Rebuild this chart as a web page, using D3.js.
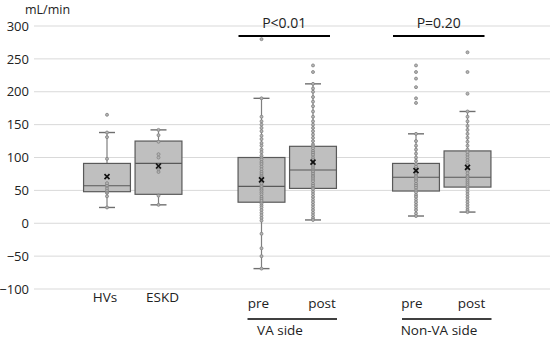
<!DOCTYPE html>
<meta charset="utf-8">
<style>
body { margin: 0; background: #fff; }
text { font-family: "Open Sans", "Liberation Sans", sans-serif; fill: #222; }
</style>
<body>
<svg id="chart" width="550" height="343"></svg>
<script src="https://cdn.jsdelivr.net/npm/d3@7/dist/d3.min.js"></script>
<script>

// x slots: groups plus empty gap slots between them
var slots = ["gapA", "HVs", "ESKD", "gapB", "VA pre", "VA post", "gapC", "NonVA pre", "NonVA post", "gapD"];
var groups = ["HVs", "ESKD", "VA pre", "VA post", "NonVA pre", "NonVA post"];

// box statistics
var q1      = [48, 44, 32, 53, 49, 55];
var median  = [57, 91, 56, 81, 70, 70];
var q3      = [91, 125, 100, 117, 91, 110];
var whiskLo = [24, 28, -69, 5, 11, 17];
var whiskHi = [138, 142, 190, 212, 136, 170];
var means   = [71, 87, 66, 93, 80, 85];

// individual values (dots)
var points = [
  [24, 41, 46, 48, 50, 53, 56, 58, 61, 98, 131, 138, 165],
  [28, 42, 78, 82, 85, 88, 100, 105, 124, 134, 142],
  [280, 190, 162, 155, 150, 145, 140, 133, 128, 122, 118, 112, 108, 103, 100, 97, 93, 90, 86, 82, 78, 75,
   72, 70, 68, 65, 62, 60, 57, 55, 52, 50, 47, 44, 40, 37, 34, 30, 27, 24, 20, 16, 12, 8, 4, -16, -38, -50, -69],
  [240, 230, 212, 205, 200, 192, 185, 178, 170, 162, 155, 150, 145, 140, 135, 130, 125, 120, 117, 114, 110,
   107, 104, 100, 97, 94, 92, 90, 88, 85, 82, 80, 78, 75, 72, 70, 67, 64, 60, 57, 54, 52, 48, 44, 40, 36,
   32, 28, 24, 20, 16, 12, 8, 5],
  [240, 230, 220, 207, 190, 183, 136, 125, 118, 112, 106, 100, 95, 90, 86, 82, 78, 75, 72, 70, 67, 64, 60,
   57, 54, 50, 47, 43, 40, 36, 32, 28, 24, 20, 15, 11],
  [260, 230, 197, 170, 162, 155, 148, 142, 136, 130, 124, 118, 112, 108, 104, 100, 96, 92, 88, 84, 80, 76,
   72, 70, 67, 64, 61, 58, 55, 52, 48, 44, 40, 36, 32, 28, 24, 20, 17]
];

var yTicks = [-100, -50, 0, 50, 100, 150, 200, 250, 300];

// bottom labels
var subLabels = ["HVs", "ESKD", "pre", "post", "pre", "post"];
var sideLabels = ["VA side", "Non-VA side"];
var sidePairs = [["VA pre", "VA post"], ["NonVA pre", "NonVA post"]];
var pTexts = ["P<0.01", "P=0.20"];

var svg = d3.select("#chart");

var x = d3.scaleBand().domain(slots).range([29.75, 544.75]).padding(0);
var y = d3.scaleLinear().domain([-100, 300]).range([289, 26]);

var boxW = x.bandwidth() * 0.91;
var capW = 16;
function cx(g) { return x(g) + x.bandwidth() / 2; }

// gridlines
svg.append("g").selectAll("line")
  .data(yTicks).enter().append("line")
  .attr("x1", 34).attr("x2", 550)
  .attr("y1", function(d) { return y(d); })
  .attr("y2", function(d) { return y(d); })
  .attr("stroke", "#d9d9d9").attr("stroke-width", 1);

// y axis labels
var yAxis = d3.axisLeft(y).tickValues(yTicks).tickSize(0).tickPadding(0);
var ya = svg.append("g").attr("transform", "translate(29,0)").call(yAxis);
ya.select(".domain").remove();
ya.selectAll("text")
  .style("font-family", "'Open Sans', sans-serif")
  .attr("font-size", 13).attr("fill", "#333");

svg.append("text").attr("x", 25).attr("y", 14)
  .attr("font-size", 12.5).text("mL/min");

// boxes
var box = svg.append("g").selectAll("g")
  .data(groups).enter().append("g");

box.append("line")
  .attr("x1", function(d) { return cx(d); })
  .attr("x2", function(d) { return cx(d); })
  .attr("y1", function(d, i) { return y(whiskHi[i]); })
  .attr("y2", function(d, i) { return y(whiskLo[i]); })
  .attr("stroke", "#7f7f7f").attr("stroke-width", 1.2);

[whiskHi, whiskLo].forEach(function(arr) {
  box.append("line")
    .attr("x1", function(d) { return cx(d) - capW / 2; })
    .attr("x2", function(d) { return cx(d) + capW / 2; })
    .attr("y1", function(d, i) { return y(arr[i]); })
    .attr("y2", function(d, i) { return y(arr[i]); })
    .attr("stroke", "#6f6f6f").attr("stroke-width", 1.4);
});

box.append("rect")
  .attr("x", function(d) { return cx(d) - boxW / 2; })
  .attr("width", boxW)
  .attr("y", function(d, i) { return y(q3[i]); })
  .attr("height", function(d, i) { return y(q1[i]) - y(q3[i]); })
  .attr("fill", "#bfbfbf").attr("stroke", "#595959").attr("stroke-width", 1.2);

box.append("line")
  .attr("x1", function(d) { return cx(d) - boxW / 2; })
  .attr("x2", function(d) { return cx(d) + boxW / 2; })
  .attr("y1", function(d, i) { return y(median[i]); })
  .attr("y2", function(d, i) { return y(median[i]); })
  .attr("stroke", "#595959").attr("stroke-width", 1.2);

// dots
box.each(function(g, i) {
  d3.select(this).selectAll("circle")
    .data(points[i]).enter().append("circle")
    .attr("cx", cx(g))
    .attr("cy", function(v) { return y(v); })
    .attr("r", 1.5)
    .attr("fill", "#b5b5b5").attr("stroke", "#808080").attr("stroke-width", 0.8);
});

// mean marker
box.append("path")
  .attr("d", function(d, i) {
    var px = cx(d), py = y(means[i]), s = 2.5;
    return "M" + (px - s) + "," + (py - s) + "L" + (px + s) + "," + (py + s) +
           "M" + (px - s) + "," + (py + s) + "L" + (px + s) + "," + (py - s);
  })
  .attr("stroke", "#111").attr("stroke-width", 1.6);

// significance bars
sidePairs.forEach(function(pair, k) {
  var x1 = cx(pair[0]) - 23, x2 = cx(pair[1]) + 17;
  svg.append("line").attr("x1", x1).attr("x2", x2)
    .attr("y1", 36).attr("y2", 36)
    .attr("stroke", "#000").attr("stroke-width", 2);
  svg.append("text").attr("x", (x1 + x2) / 2).attr("y", 28)
    .attr("text-anchor", "middle").attr("font-size", 14)
    .text(pTexts[k]);
});

// category labels
svg.append("g").selectAll("text")
  .data(groups).enter().append("text")
  .attr("x", function(d, i) { return cx(d) + [-2, 4, -3, 9, -4, 4][i]; })
  .attr("y", function(d, i) { return i < 2 ? 302 : 308; })
  .attr("text-anchor", "middle").attr("font-size", 13.5)
  .text(function(d, i) { return subLabels[i]; });

sidePairs.forEach(function(pair, k) {
  var x1 = cx(pair[0]) - 14, x2 = cx(pair[1]) + 24;
  svg.append("line").attr("x1", x1).attr("x2", x2)
    .attr("y1", 319).attr("y2", 319)
    .attr("stroke", "#000").attr("stroke-width", 1.6);
  svg.append("text").attr("x", [280, 439][k]).attr("y", 335)
    .attr("text-anchor", "middle").attr("font-size", 13.5)
    .text(sideLabels[k]);
});

</script>
</body>
